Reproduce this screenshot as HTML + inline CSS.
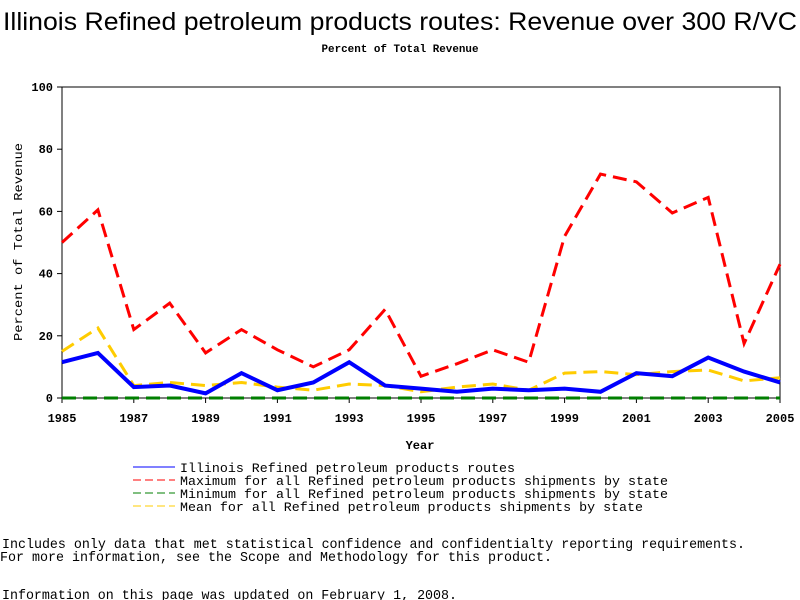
<!DOCTYPE html>
<html><head><meta charset="utf-8"><style>
body{margin:0;background:#fff;width:800px;height:600px;overflow:hidden}
svg{display:block}
text{font-family:"Liberation Mono",monospace;fill:#000}
</style></head><body>
<svg width="800" height="600">
<text x="400" y="30" text-anchor="middle" style="font-family:'Liberation Sans',sans-serif;font-size:25px" textLength="794" lengthAdjust="spacingAndGlyphs">Illinois Refined petroleum products routes: Revenue over 300 R/VC</text>
<text x="400" y="52" text-anchor="middle" style="font-size:11px;font-weight:bold" textLength="157" lengthAdjust="spacingAndGlyphs">Percent of Total Revenue</text>
<rect x="62" y="87" width="718" height="311" fill="none" stroke="#000" stroke-width="1"/>
<g id="yt"></g><g id="xt"></g><g id="series"></g>
<text transform="translate(22,242) rotate(-90)" text-anchor="middle" style="font-size:12px" textLength="198" lengthAdjust="spacingAndGlyphs">Percent of Total Revenue</text>
<text x="420" y="449" text-anchor="middle" style="font-size:12px;font-weight:bold">Year</text>
<g style="font-size:13px">
<line x1="133" y1="467" x2="175" y2="467" stroke="#0000ff" stroke-width="1"/>
<text x="180" y="472" textLength="335" lengthAdjust="spacingAndGlyphs">Illinois Refined petroleum products routes</text>
<line x1="133" y1="480" x2="175" y2="480" stroke="#ff0000" stroke-dasharray="8,4"/>
<text x="180" y="485" textLength="488" lengthAdjust="spacingAndGlyphs">Maximum for all Refined petroleum products shipments by state</text>
<line x1="133" y1="493" x2="175" y2="493" stroke="#007f00" stroke-dasharray="8,4"/>
<text x="180" y="498" textLength="488" lengthAdjust="spacingAndGlyphs">Minimum for all Refined petroleum products shipments by state</text>
<line x1="133" y1="506" x2="175" y2="506" stroke="#ffcc00" stroke-dasharray="8,4"/>
<text x="180" y="511" textLength="463" lengthAdjust="spacingAndGlyphs">Mean for all Refined petroleum products shipments by state</text>
</g>
<g style="font-size:14px">
<text x="2" y="548" textLength="743" lengthAdjust="spacingAndGlyphs">Includes only data that met statistical confidence and confidentialty reporting requirements.</text>
<text x="0" y="561" textLength="552" lengthAdjust="spacingAndGlyphs">For more information, see the Scope and Methodology for this product.</text>
<text x="2" y="599" textLength="455" lengthAdjust="spacingAndGlyphs">Information on this page was updated on February 1, 2008.</text>
</g>
</svg>
<script>
const years=[1985,1986,1987,1988,1989,1990,1991,1992,1993,1994,1995,1996,1997,1998,1999,2000,2001,2002,2003,2004,2005];
const illinois=[11.5,14.5,3.5,4,1.5,8,2.5,5,11.5,4,3,2,3,2.5,3,2,8,7,13,8.5,5];
const maxVals=[50,60.5,22,30.5,14.5,22,15.5,10,15.5,28.5,7,11,15.5,11.5,52,72,69.5,59.5,64.5,17.5,43];
const minVals=[0,0,0,0,0,0,0,0,0,0,0,0,0,0,0,0,0,0,0,0,0];
const meanVals=[15,22.5,4,5,4,5,3.5,2.5,4.5,4,2,3.5,4.5,2.5,8,8.5,7.5,8.5,9,5.5,6.5];
const yTicks=[0,20,40,60,80,100];
const xTicks=[1985,1987,1989,1991,1993,1995,1997,1999,2001,2003,2005];
const NS="http://www.w3.org/2000/svg";
const xs=y=>62+(y-1985)*(718/20);
const ys=v=>398-v*3.11;
function mk(tag,attrs,parent){const e=document.createElementNS(NS,tag);for(const k in attrs)e.setAttribute(k,attrs[k]);parent.appendChild(e);return e;}
const yt=document.getElementById('yt'),xt=document.getElementById('xt'),sg=document.getElementById('series');
yTicks.forEach(v=>{
 const l=mk('line',{x1:57,x2:62,y1:ys(v),y2:ys(v),stroke:'#000'},yt);
 
 
 const t=mk('text',{x:53,y:ys(v)+4,'text-anchor':'end',style:'font-size:12px;font-weight:bold'},yt);
 t.textContent=v;
 
 
});
xTicks.forEach(v=>{
 const l=mk('line',{x1:xs(v),x2:xs(v),y1:398,y2:403,stroke:'#000'},xt);
 
 
 const t=mk('text',{x:xs(v),y:422,'text-anchor':'middle',style:'font-size:12px;font-weight:bold'},xt);
 t.textContent=v;
 
 
});
function line(vals,color,w,dash,name){
 const p=mk('polyline',{points:vals.map((v,i)=>xs(years[i])+','+ys(v)).join(' '),fill:'none',stroke:color,'stroke-width':w,'stroke-dasharray':dash},sg);
 
 
}
line(minVals,'#007f00',3,'14,7','min-line');
line(meanVals,'#ffcc00',3,'14,7','mean-line');
line(maxVals,'#ff0000',3,'14,7','max-line');
line(illinois,'#0000ff',4,'none','illinois-line');
</script>
</body></html>
